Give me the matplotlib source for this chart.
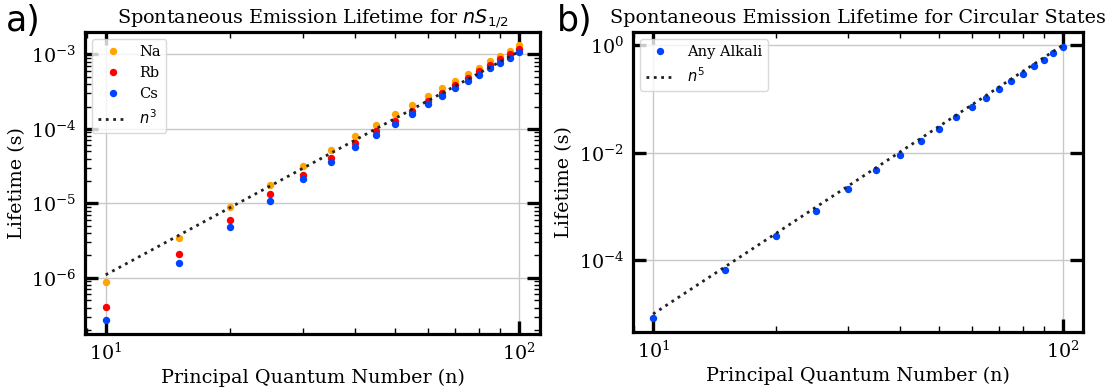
"""Spontaneous emission lifetimes: nS1/2 states of alkalis (a) and circular states (b)."""

import matplotlib
matplotlib.use("Agg")
import matplotlib.pyplot as plt
from matplotlib.ticker import LogLocator, NullLocator

plt.rcParams["font.family"] = "DejaVu Serif"
plt.rcParams["mathtext.fontset"] = "dejavusans"

# principal quantum numbers sampled (both panels)
n_vals = [10, 15, 20, 25, 30, 35, 40, 45, 50, 55, 60, 65, 70, 75, 80, 85, 90, 95, 100]

# nS1/2 lifetimes (s)
tau_na = [8.8e-7, 3.44e-6, 8.9e-6, 1.78e-5, 3.22e-5, 5.16e-5, 7.96e-5, 1.13e-4, 1.59e-4, 2.07e-4,
          2.74e-4, 3.5e-4, 4.44e-4, 5.4e-4, 6.57e-4, 8.06e-4, 9.5e-4, 1.13e-3, 1.32e-3]
tau_rb = [4.1e-7, 2.12e-6, 5.97e-6, 1.32e-5, 2.44e-5, 4.08e-5, 6.49e-5, 9.4e-5, 1.29e-4, 1.76e-4,
          2.37e-4, 3.04e-4, 3.84e-4, 4.83e-4, 5.92e-4, 7.28e-4, 8.57e-4, 1.01e-3, 1.18e-3]
tau_cs = [2.7e-7, 1.57e-6, 4.8e-6, 1.09e-5, 2.16e-5, 3.61e-5, 5.67e-5, 8.4e-5, 1.17e-4, 1.59e-4,
          2.16e-4, 2.77e-4, 3.5e-4, 4.35e-4, 5.35e-4, 6.57e-4, 7.67e-4, 9.0e-4, 1.08e-3]

# circular-state lifetimes (s)
tau_circ = [8.3e-6, 6.53e-5, 2.82e-4, 8.43e-4, 2.13e-3, 4.76e-3, 9.18e-3, 1.67e-2, 2.82e-2, 4.65e-2,
            7.11e-2, 0.107, 0.157, 0.218, 0.298, 0.408, 0.541, 0.72, 0.94]

# scaling guide lines (straight on log-log, so the two ends are enough)
guide_n = [10, 100]
guide_n3 = [1.1e-6, 1.1e-3]
guide_n5 = [1.0e-5, 1.0]

NA, RB, CS = "#ffa500", "#ff0000", "#0044ff"
FS = 13.8


def style(ax, y_every=1):
    ax.set_xscale("log")
    ax.set_yscale("log")
    ax.grid(True, which="major", color="#c8c8c8", lw=1.0)
    ax.set_axisbelow(True)
    for s in ax.spines.values():
        s.set_linewidth(2.3)
    ax.tick_params(which="both", direction="in", top=True, right=True, labelsize=FS)
    ax.tick_params(which="major", length=9.5, width=2.4, pad=6)
    ax.tick_params(which="minor", length=4.5, width=1.0)
    ax.xaxis.set_minor_locator(LogLocator(subs=range(2, 10)))
    if y_every > 1:
        ax.yaxis.set_major_locator(LogLocator(base=10.0 ** y_every))
        ax.yaxis.set_minor_locator(NullLocator())
    ax.set_xlabel("Principal Quantum Number (n)", fontsize=FS)
    ax.set_ylabel("Lifetime (s)", fontsize=FS)


fig = plt.figure(figsize=(11.07, 3.88), dpi=100)
ax1 = fig.add_axes([0.0768, 0.1392, 0.411, 0.779])
ax2 = fig.add_axes([0.5715, 0.1443, 0.4068, 0.774])

ax1.plot(n_vals, tau_na, "o", ms=4.3, color=NA, label="Na")
ax1.plot(n_vals, tau_rb, "o", ms=4.3, color=RB, label="Rb")
ax1.plot(n_vals, tau_cs, "o", ms=4.3, color=CS, label="Cs")
ax1.plot(guide_n, guide_n3, ":", lw=2, color="#222222", label="$n^3$")
style(ax1)
ax1.set_title("Spontaneous Emission Lifetime for $nS_{1/2}$", fontsize=FS)
ax1.legend(loc="upper left", fontsize=10.5, framealpha=0.8, edgecolor="#d0d0d0")

ax2.plot(n_vals, tau_circ, "o", ms=4.3, color=CS, label="Any Alkali")
ax2.plot(guide_n, guide_n5, ":", lw=2, color="#222222", label="$n^5$")
style(ax2, y_every=2)
ax2.set_title("Spontaneous Emission Lifetime for Circular States", fontsize=FS)
ax2.legend(loc="upper left", fontsize=10.5, framealpha=0.8, edgecolor="#d0d0d0")

fig.text(0.005, 0.99, "a)", fontsize=25, family="DejaVu Sans", va="top")
fig.text(0.503, 0.99, "b)", fontsize=25, family="DejaVu Sans", va="top")

fig.savefig("out.png", dpi=100)
